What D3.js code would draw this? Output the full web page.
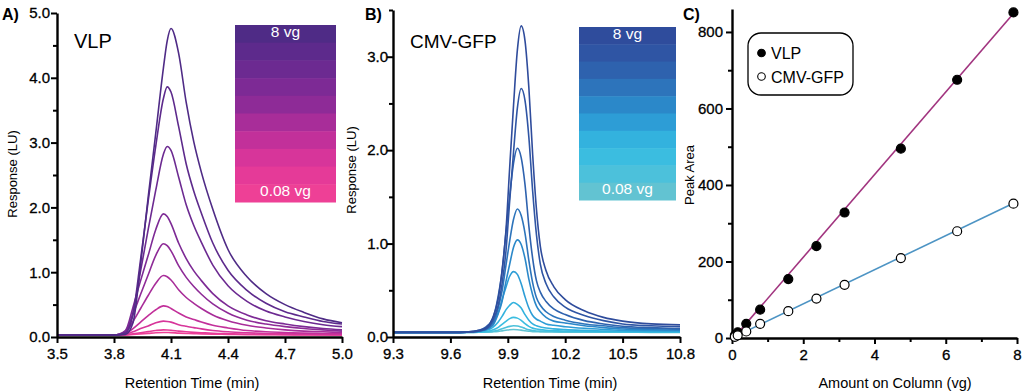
<!DOCTYPE html>
<html>
<head>
<meta charset="utf-8">
<script src="https://cdn.jsdelivr.net/npm/d3@7"></script>
<style>
    body { margin: 0; background: #fff; }
    svg text { font-family: "Liberation Sans", Arial, sans-serif; }
</style>
</head>
<body>
<div id="chart"></div>
<script>
// ---- panel A: VLP chromatograms (8 vg ... 0.08 vg) ----
const vlpTime = [3.50, 3.80, 3.86, 3.90, 3.94, 3.98, 4.02, 4.06, 4.08, 4.10, 4.14, 4.18, 4.22, 4.26, 4.32, 4.40, 4.50, 4.60, 4.70, 4.80, 4.90, 5.00];
const vlpResponse = [
    [0.03, 0.03, 0.04, 0.22, 1.12, 2.16, 3.15, 4.15, 4.57, 4.76, 4.38, 3.62, 3.01, 2.54, 1.97, 1.35, 0.93, 0.67, 0.50, 0.38, 0.28, 0.22],
    [0.03, 0.03, 0.06, 0.35, 1.20, 2.10, 2.95, 3.68, 3.86, 3.78, 3.25, 2.67, 2.25, 1.91, 1.45, 1.03, 0.72, 0.52, 0.39, 0.31, 0.24, 0.20],
    [0.03, 0.03, 0.07, 0.38, 1.02, 1.66, 2.27, 2.82, 2.94, 2.88, 2.47, 2.04, 1.72, 1.46, 1.11, 0.79, 0.55, 0.40, 0.31, 0.24, 0.19, 0.16],
    [0.03, 0.03, 0.10, 0.46, 0.87, 1.26, 1.66, 1.90, 1.86, 1.75, 1.45, 1.21, 1.02, 0.87, 0.67, 0.48, 0.34, 0.25, 0.20, 0.16, 0.13, 0.11],
    [0.03, 0.03, 0.09, 0.35, 0.66, 0.96, 1.26, 1.44, 1.41, 1.33, 1.10, 0.92, 0.78, 0.66, 0.51, 0.37, 0.26, 0.20, 0.16, 0.13, 0.11, 0.09],
    [0.03, 0.03, 0.07, 0.24, 0.44, 0.64, 0.83, 0.95, 0.93, 0.88, 0.73, 0.61, 0.52, 0.44, 0.34, 0.25, 0.18, 0.14, 0.11, 0.09, 0.08, 0.07],
    [0.03, 0.03, 0.05, 0.13, 0.23, 0.33, 0.42, 0.48, 0.47, 0.44, 0.37, 0.31, 0.27, 0.23, 0.18, 0.14, 0.10, 0.08, 0.07, 0.06, 0.055, 0.05],
    [0.03, 0.03, 0.04, 0.08, 0.13, 0.17, 0.22, 0.245, 0.24, 0.23, 0.19, 0.165, 0.145, 0.125, 0.10, 0.08, 0.065, 0.055, 0.05, 0.045, 0.04, 0.04],
    [0.03, 0.03, 0.033, 0.05, 0.066, 0.083, 0.10, 0.11, 0.108, 0.104, 0.09, 0.08, 0.072, 0.066, 0.057, 0.05, 0.043, 0.04, 0.037, 0.035, 0.034, 0.033],
    [0.03, 0.03, 0.032, 0.04, 0.048, 0.056, 0.065, 0.07, 0.069, 0.067, 0.06, 0.055, 0.051, 0.048, 0.044, 0.04, 0.037, 0.035, 0.034, 0.033, 0.032, 0.031]
];
const vlpColors = ["#4f2b86", "#5d2a8c", "#6c2a91", "#7d2a95", "#8e2b97", "#a82d99", "#c2309a", "#d7359a", "#e53a98", "#ee4096"];
const vlpXTicks = [3.5, 3.8, 4.1, 4.4, 4.7, 5.0];
const vlpYTicks = [0, 1, 2, 3, 4, 5];
const vlpYMinor = [0.5, 1.5, 2.5, 3.5, 4.5];

// ---- panel B: CMV-GFP chromatograms ----
const cmvTime = [9.30, 9.65, 9.72, 9.78, 9.82, 9.85, 9.87, 9.89, 9.91, 9.93, 9.95, 9.97, 9.99, 10.01, 10.03, 10.05, 10.07, 10.10, 10.14, 10.20, 10.30, 10.40, 10.50, 10.65, 10.80];
const cmvResponse = [
    [0.05, 0.05, 0.06, 0.09, 0.20, 0.41, 0.71, 1.13, 1.82, 2.48, 3.07, 3.33, 3.17, 2.67, 1.95, 1.36, 0.97, 0.71, 0.54, 0.40, 0.28, 0.21, 0.17, 0.14, 0.13],
    [0.05, 0.05, 0.055, 0.08, 0.17, 0.34, 0.57, 0.91, 1.46, 1.98, 2.45, 2.66, 2.53, 2.14, 1.56, 1.09, 0.78, 0.57, 0.43, 0.32, 0.23, 0.175, 0.14, 0.12, 0.11],
    [0.05, 0.05, 0.06, 0.10, 0.19, 0.44, 0.70, 1.11, 1.51, 1.86, 2.02, 1.92, 1.63, 1.19, 0.84, 0.60, 0.48, 0.38, 0.30, 0.24, 0.175, 0.14, 0.115, 0.10, 0.09],
    [0.05, 0.05, 0.055, 0.08, 0.14, 0.31, 0.49, 0.76, 1.03, 1.26, 1.37, 1.30, 1.11, 0.82, 0.58, 0.42, 0.34, 0.27, 0.22, 0.18, 0.14, 0.12, 0.10, 0.09, 0.08],
    [0.05, 0.05, 0.054, 0.075, 0.12, 0.25, 0.38, 0.59, 0.78, 0.96, 1.04, 0.99, 0.84, 0.62, 0.45, 0.33, 0.27, 0.21, 0.17, 0.15, 0.12, 0.10, 0.085, 0.077, 0.072],
    [0.05, 0.05, 0.055, 0.08, 0.15, 0.26, 0.40, 0.53, 0.65, 0.70, 0.67, 0.57, 0.43, 0.31, 0.23, 0.19, 0.17, 0.14, 0.125, 0.11, 0.093, 0.081, 0.072, 0.067, 0.064],
    [0.05, 0.05, 0.053, 0.064, 0.10, 0.16, 0.22, 0.29, 0.34, 0.37, 0.35, 0.31, 0.24, 0.18, 0.14, 0.12, 0.108, 0.096, 0.087, 0.079, 0.071, 0.065, 0.061, 0.058, 0.057],
    [0.05, 0.05, 0.051, 0.057, 0.074, 0.103, 0.136, 0.168, 0.197, 0.21, 0.202, 0.178, 0.143, 0.114, 0.095, 0.085, 0.079, 0.073, 0.068, 0.064, 0.061, 0.058, 0.055, 0.054, 0.053],
    [0.05, 0.05, 0.05, 0.053, 0.06, 0.073, 0.088, 0.102, 0.114, 0.12, 0.117, 0.106, 0.091, 0.078, 0.07, 0.065, 0.063, 0.06, 0.058, 0.056, 0.055, 0.053, 0.052, 0.052, 0.051],
    [0.05, 0.05, 0.05, 0.051, 0.055, 0.06, 0.066, 0.072, 0.078, 0.08, 0.078, 0.074, 0.067, 0.062, 0.058, 0.057, 0.055, 0.054, 0.053, 0.052, 0.052, 0.051, 0.051, 0.05, 0.05]
];
const cmvColors = ["#2f4c9c", "#2f55a4", "#2e62ae", "#2d74bb", "#2b88c9", "#2d9dd6", "#33b2de", "#3bbde0", "#4cc1db", "#62c3d2"];
const cmvXTicks = [9.3, 9.6, 9.9, 10.2, 10.5, 10.8];
const cmvYTicks = [0, 1, 2, 3];
const cmvYMinor = [0.5, 1.5, 2.5, 3.5];

// ---- panel C: peak area vs amount ----
const amountOnColumn = [0.08, 0.16, 0.40, 0.79, 1.58, 2.37, 3.16, 4.74, 6.32, 7.90];
const vlpPeakArea = [7, 15, 37, 74, 154, 240, 328, 495, 675, 851];
const cmvPeakArea = [3, 7, 17, 37, 70, 103, 139, 209, 279, 351];
const vlpFit = [108, -5];   // slope, intercept
const cmvFit = [44.6, 0];
const areaXTicks = [0, 2, 4, 6, 8];
const areaXMinor = [1, 3, 5, 7];
const areaYTicks = [0, 200, 400, 600, 800];
const areaYMinor = [100, 300, 500, 700];

const svg = d3.select("#chart")
    .append("svg")
    .attr("width", 1024)
    .attr("height", 392);

function styleAxis(g, fontSize) {
    g.select(".domain").attr("stroke", "#000").attr("stroke-width", 2.4);
    g.selectAll(".tick line").attr("stroke", "#000").attr("stroke-width", 2);
    g.selectAll(".tick text").attr("font-size", fontSize).attr("fill", "#000")
        .attr("stroke", "#000").attr("stroke-width", 0.3)
        .attr("font-family", "Liberation Sans, Arial, sans-serif");
}

function drawAxes(x, y, o) {
    // minor ticks first, no labels
    if (o.yMinor) {
        svg.append("g")
            .attr("transform", `translate(${x.range()[0]},0)`)
            .call(d3.axisLeft(y).tickValues(o.yMinor).tickSize(4).tickFormat(""))
            .call(g => { g.select(".domain").remove(); styleAxis(g, 15); });
    }
    if (o.xMinor) {
        svg.append("g")
            .attr("transform", `translate(0,${y.range()[0]})`)
            .call(d3.axisBottom(x).tickValues(o.xMinor).tickSize(4).tickFormat(""))
            .call(g => { g.select(".domain").remove(); styleAxis(g, 15); });
    }
    svg.append("g")
        .attr("transform", `translate(0,${y.range()[0]})`)
        .call(d3.axisBottom(x).tickValues(o.xTicks).tickSize(6).tickSizeOuter(0)
            .tickPadding(5).tickFormat(o.fmt))
        .call(g => styleAxis(g, 15));
    svg.append("g")
        .attr("transform", `translate(${x.range()[0]},0)`)
        .call(d3.axisLeft(y).tickValues(o.yTicks).tickSize(6).tickSizeOuter(0)
            .tickPadding(o.yPad).tickFormat(o.fmt))
        .call(g => styleAxis(g, 15));

    svg.append("text")
        .attr("x", o.xTitleX).attr("y", 388)
        .attr("text-anchor", "middle")
        .attr("font-size", 14.5)
        .text(o.xTitle);
    svg.append("text")
        .attr("transform", `translate(${o.yTitleX},${o.yTitleY}) rotate(-90)`)
        .attr("text-anchor", "middle")
        .attr("font-size", 13)
        .text(o.yTitle);
    svg.append("text")
        .attr("x", o.panelX).attr("y", 20)
        .attr("font-size", 16).attr("font-weight", "bold")
        .text(o.panel);
}

function chromatogram(o) {
    const x = d3.scaleLinear().domain(o.xDomain).range(o.xRange);
    const y = d3.scaleLinear().domain(o.yDomain).range([337, o.yTop]);

    // traces, small amounts first so the big peaks sit on top
    const line = d3.line()
        .x((d, i) => x(o.time[i]))
        .y(d => y(d))
        .curve(d3.curveMonotoneX);

    svg.append("g")
        .selectAll("path")
        .data(o.response.map((r, i) => ({r, c: o.colors[i]})).reverse())
        .join("path")
        .attr("d", d => line(d.r))
        .attr("fill", "none")
        .attr("stroke", d => d.c)
        .attr("stroke-width", 1.6);

    drawAxes(x, y, o);

    // sample name
    svg.append("text")
        .attr("x", o.nameX).attr("y", 48)
        .attr("font-size", o.nameSize)
        .text(o.name);

    // banded colour key
    const band = d3.scaleBand().domain(d3.range(o.colors.length)).range(o.keyY);
    const key = svg.append("g");
    key.selectAll("rect")
        .data(o.colors)
        .join("rect")
        .attr("x", o.keyX[0])
        .attr("width", o.keyX[1] - o.keyX[0])
        .attr("y", (d, i) => band(i))
        .attr("height", band.bandwidth() + 0.5)
        .attr("fill", d => d);
    const cx = (o.keyX[0] + o.keyX[1]) / 2;
    key.append("text").attr("x", cx).attr("y", o.keyY[0] + 12)
        .attr("text-anchor", "middle").attr("fill", "#fff").attr("font-size", 15.5)
        .text("8 vg");
    key.append("text").attr("x", cx).attr("y", o.keyY[1] - 6)
        .attr("text-anchor", "middle").attr("fill", "#fff").attr("font-size", 15.5)
        .text("0.08 vg");
}

chromatogram({
    time: vlpTime, response: vlpResponse, colors: vlpColors,
    xDomain: [3.5, 5.0], xRange: [57, 342], yDomain: [0, 5], yTop: 13,
    xTicks: vlpXTicks, yTicks: vlpYTicks, yMinor: vlpYMinor, yPad: 1,
    fmt: d3.format(".1f"),
    xTitle: "Retention Time (min)", xTitleX: 192,
    yTitle: "Response (LU)", yTitleX: 17, yTitleY: 174,
    panel: "A)", panelX: 2,
    name: "VLP", nameX: 74, nameSize: 20,
    keyX: [235, 336], keyY: [25, 202]
});

chromatogram({
    time: cmvTime, response: cmvResponse, colors: cmvColors,
    xDomain: [9.3, 10.8], xRange: [393, 680], yDomain: [0, 3.5], yTop: 10,
    xTicks: cmvXTicks, yTicks: cmvYTicks, yMinor: cmvYMinor, yPad: -1,
    fmt: d3.format(".1f"),
    xTitle: "Retention Time (min)", xTitleX: 550,
    yTitle: "Response (LU)", yTitleX: 356, yTitleY: 170,
    panel: "B)", panelX: 365,
    name: "CMV-GFP", nameX: 410, nameSize: 19,
    keyX: [579, 676], keyY: [27, 200]
});

// ---- panel C ----
const xc = d3.scaleLinear().domain([0, 8]).range([732, 1017]);
const yc = d3.scaleLinear().domain([0, 860]).range([338, 9]);

drawAxes(xc, yc, {
    xTicks: areaXTicks, xMinor: areaXMinor, yTicks: areaYTicks, yMinor: areaYMinor, yPad: 3,
    fmt: d3.format("d"),
    xTitle: "Amount on Column (vg)", xTitleX: 895,
    yTitle: "Peak Area", yTitleX: 694, yTitleY: 175,
    panel: "C)", panelX: 683
});

const series = [
    {area: vlpPeakArea, fit: vlpFit, line: "#a1347f", fill: "#000"},
    {area: cmvPeakArea, fit: cmvFit, line: "#4d94c4", fill: "#fff"}
];

series.forEach(s => {
    const x0 = amountOnColumn[0], x1 = amountOnColumn[amountOnColumn.length - 1];
    svg.append("line")
        .attr("x1", xc(x0)).attr("y1", yc(s.fit[0] * x0 + s.fit[1]))
        .attr("x2", xc(x1)).attr("y2", yc(s.fit[0] * x1 + s.fit[1]))
        .attr("stroke", s.line)
        .attr("stroke-width", 1.6);
});

series.forEach(s => {
    svg.append("g")
        .selectAll("circle")
        .data(s.area)
        .join("circle")
        .attr("cx", (d, i) => xc(amountOnColumn[i]))
        .attr("cy", d => yc(d))
        .attr("r", 4.5)
        .attr("fill", s.fill)
        .attr("stroke", "#000")
        .attr("stroke-width", 1.2);
});

// legend
const legend = svg.append("g");
legend.append("rect")
    .attr("x", 748).attr("y", 33).attr("width", 105).attr("height", 62)
    .attr("rx", 13)
    .attr("fill", "#fff").attr("stroke", "#000").attr("stroke-width", 1.3);
[["VLP", "#000", 53], ["CMV-GFP", "#fff", 76.5]].forEach(([label, fill, cy]) => {
    legend.append("circle")
        .attr("cx", 761.5).attr("cy", cy).attr("r", 3.8)
        .attr("fill", fill).attr("stroke", "#000").attr("stroke-width", 1.1);
    legend.append("text")
        .attr("x", 771).attr("y", cy + 6)
        .attr("font-size", 16)
        .text(label);
});
</script>
</body>
</html>
